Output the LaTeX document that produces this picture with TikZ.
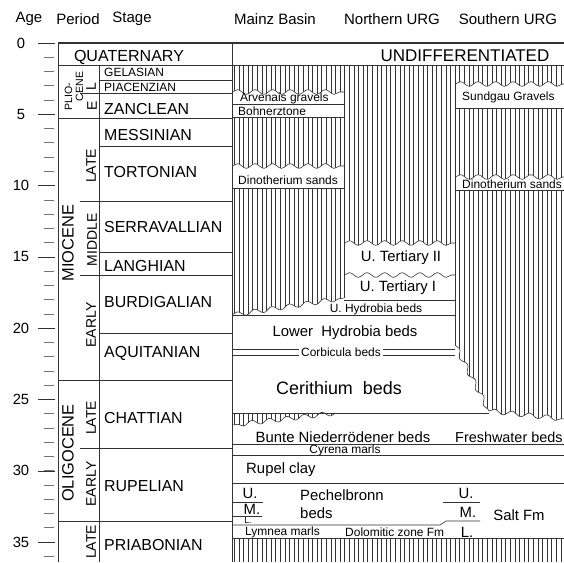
\documentclass[tikz,border=0pt]{standalone}
\usepackage{fontspec}
\setmainfont{Liberation Sans}
\usetikzlibrary{decorations.pathmorphing}

\tikzset{
  rule/.style={black!80, line width=0.5pt},
  hatch/.style={black!80, line width=0.45pt},
  wavy/.style={decoration={snake, segment length=15pt, amplitude=2pt}},
  lbl/.style={inner sep=0pt},
  hdr/.style={lbl, font=\fontsize{12.8}{14}\selectfont},
  agenum/.style={lbl, font=\fontsize{12.6}{14}\selectfont},
  stg/.style={lbl, anchor=west, font=\fontsize{13.6}{15}\selectfont},
  stgsmall/.style={lbl, anchor=west, font=\fontsize{10.2}{11}\selectfont},
  med/.style={lbl, font=\fontsize{12.7}{14}\selectfont},
  sml/.style={lbl, font=\fontsize{10.2}{11}\selectfont},
  epoch/.style={lbl, rotate=90, font=\fontsize{14}{15}\selectfont},
  subep/.style={lbl, rotate=90, font=\fontsize{11.9}{13}\selectfont},
}

\begin{document}
\begin{tikzpicture}[x=0.03cm,y=-0.03cm]
  \useasboundingbox (0,0) rectangle (564,562);
  \clip (0,0) rectangle (564,562);
  % hatching of the basin columns
  \foreach \x in {234.3,238.9,...,564}
    \draw[hatch] (\x,65) -- (\x,562);
  % unhatched beds
  \fill[white,wavy] (232,92) decorate{-- (344,92)} -- (344,117) -- (232,117) -- cycle;
  \fill[white,wavy] (232,166) decorate{-- (344,166)} -- (344,188) -- (232,188) -- cycle;
  \fill[white,wavy] (455,84) decorate{-- (564,84)} -- (564,108) -- (455,108) -- cycle;
  \fill[white,wavy] (455,177) decorate{-- (564,177)} -- (564,190) -- (455,190) -- cycle;
  \fill[white,wavy] (344,243) decorate{-- (455,243)} -- (455,345)
    decorate{-- (489,411)} decorate{-- (564,419)} -- (564,538) -- (232,538)
    -- (232,315) decorate{-- (344,298)} -- cycle;
  % hatched lens below the Cerithium beds
  \begin{scope}
    \clip[wavy] (232,413) -- (336,413) decorate{-- (232,425)} -- cycle;
    \foreach \x in {234.3,238.9,...,340}
      \draw[hatch] (\x,410) -- (\x,432);
  \end{scope}

  % age scale
  \foreach \a in {0,...,36} {
    \pgfmathsetmacro\yy{43+14.26*\a}
    \draw[black!55, line width=0.6pt] (44,\yy) -- (54,\yy);
  }
  \foreach \a in {0,5,...,35} {
    \pgfmathsetmacro\yy{43+14.26*\a}
    \draw[rule] (38,\yy) -- (55,\yy);
    \node[agenum] (age\a) at (21,\yy) {\a};
  }

  % chart frame
  \draw[rule, line width=1pt] (58,43) -- (564,43);
  \draw[rule] (58,65) -- (564,65);
  \draw[rule] (58,43) -- (58,562);
  \draw[rule] (99,65) -- (99,562);
  \draw[rule] (232,43) -- (232,562);
  % stage, sub-epoch and epoch boundaries
  \foreach \y in {80,146,252,333} \draw[rule] (99,\y) -- (232,\y);
  \foreach \y in {93,201,275,448} \draw[rule] (80,\y) -- (232,\y);
  \foreach \y in {118,380,521} \draw[rule] (58,\y) -- (232,\y);

  % basin columns
  \draw[rule] (344,65) -- (344,298);
  \draw[rule] (455,65) -- (455,345);
  \draw[rule,wavy,decorate] (232,92) -- (344,92);
  \draw[rule] (232,104) -- (344,104);
  \draw[rule] (232,117) -- (344,117);
  \draw[rule,wavy,decorate] (232,166) -- (344,166);
  \draw[rule] (232,188) -- (344,188);
  \draw[rule,wavy,decorate] (455,84) -- (564,84);
  \draw[rule] (455,108) -- (564,108);
  \draw[rule,wavy,decorate] (455,177) -- (564,177);
  \draw[rule] (455,190) -- (564,190);
  \draw[rule,wavy,decorate] (344,243) -- (455,243);
  \draw[rule,wavy,decorate] (344,275) -- (455,275);
  \draw[rule,wavy,decorate] (232,315) -- (344,298);
  \draw[rule] (344,300) -- (455,300);
  \draw[rule] (232,315) -- (455,315);
  \draw[rule] (232,349) -- (455,349);
  \draw[rule] (232,355) -- (455,355);
  \draw[rule,wavy,decorate] (455,345) -- (489,411);
  \draw[rule,wavy,decorate] (489,411) -- (564,419);
  \draw[rule] (232,413) -- (489,413);
  \draw[rule,wavy,decorate] (336,413) -- (232,425);
  \draw[rule] (232,444) -- (564,444);
  \draw[rule] (232,455) -- (564,455);
  \draw[rule] (232,483) -- (564,483);
  \draw[rule] (232,502) -- (263,502);
  \draw[rule] (232,516) -- (262,516);
  \draw[rule] (443,502) -- (480,502);
  \draw[rule] (232,525) -- (440,525) -- (446,521) -- (480,521);
  \draw[rule] (232,538) -- (564,538);

  % headings
  \node[hdr] (hage) at (29,19) {Age};
  \node[hdr] (hperiod) at (78,19) {Period};
  \node[hdr] (hstage) at (132,19) {Stage};
  \node[hdr] (hmainz) at (275,19) {Mainz Basin};
  \node[hdr] (hnorth) at (392,19) {Northern URG};
  \node[hdr] (hsouth) at (508,19) {Southern URG};

  % stages
  \node[lbl, font=\fontsize{13.7}{15}\selectfont] (quat) at (129,57) {QUATERNARY};
  \node[stgsmall] (gelas) at (104,72) {GELASIAN};
  \node[stgsmall] (piacen) at (104,87) {PIACENZIAN};
  \node[stg] (zancl) at (104,109) {ZANCLEAN};
  \node[stg] (messin) at (104,135) {MESSINIAN};
  \node[stg] (torton) at (104,172) {TORTONIAN};
  \node[stg] (serrav) at (104,227) {SERRAVALLIAN};
  \node[stg] (langh) at (104,266) {LANGHIAN};
  \node[stg] (burdig) at (104,302) {BURDIGALIAN};
  \node[stg] (aquit) at (104,353) {AQUITANIAN};
  \node[stg] (chatt) at (104,418) {CHATTIAN};
  \node[stg] (rupel) at (104,486) {RUPELIAN};
  \node[stg] (priab) at (104,545) {PRIABONIAN};

  % epochs and sub-epochs
  \node[lbl, rotate=90, font=\fontsize{9}{10}\selectfont] (plio) at (68.5,96.5) {PLIO-};
  \node[lbl, rotate=90, font=\fontsize{9}{10}\selectfont] (cene) at (79.5,86.5) {CENE};
  \node[subep] (plioL) at (91,87) {L};
  \node[subep] (plioE) at (92,106) {E};
  \node[epoch] (mioc) at (68,243) {MIOCENE};
  \node[subep] (miocL) at (91,166) {LATE};
  \node[subep] (miocM) at (92,240) {MIDDLE};
  \node[subep] (miocE) at (91,325) {EARLY};
  \node[epoch] (oligo) at (68,453) {OLIGOCENE};
  \node[subep] (oligoL) at (91,418) {LATE};
  \node[subep] (oligoE) at (91,484) {EARLY};
  \node[subep] (eoceL) at (91,542) {LATE};

  % Mainz Basin
  \node[lbl, font=\fontsize{14.5}{16}\selectfont] (undiff) at (465,56) {UNDIFFERENTIATED};
  \node[sml, anchor=west] (arvern) at (240,98) {Arvenais gravels};
  \node[sml, anchor=west] (bohnerz) at (238,111) {Bohnerztone};
  \node[sml, anchor=west] (dinoM) at (238,180) {Dinotherium sands};
  % Northern URG
  \node[med] (tertII) at (401,258) {U. Tertiary II};
  \node[med] (tertI) at (398,288) {U. Tertiary I};
  \node[sml] (uhydro) at (376,309) {U. Hydrobia beds};
  \node[med] (lhydro) at (345,333) {Lower\ \ Hydrobia beds};
  \node[sml, fill=white, inner xsep=2pt] (corbic) at (341,352) {Corbicula beds};
  \node[lbl, font=\fontsize{15.3}{17}\selectfont] (cerith) at (339,388) {Cerithium\ \ beds};
  \node[med] (bunte) at (343,437) {Bunte Niederrödener beds};
  \node[sml] (cyrena) at (345,450) {Cyrena marls};
  \node[med, anchor=west] (rupclay) at (246,470) {Rupel clay};
  \node[med] (pechU) at (250,493) {U.};
  \node[med] (pechM) at (252,509) {M.};
  \node[lbl, font=\fontsize{7.5}{8}\selectfont] (pechL) at (248,520.5) {L.};
  \node[med, anchor=west] (pechel) at (300,495) {Pechelbronn};
  \node[med, anchor=west] (pechbeds) at (300,513) {beds};
  \node[sml, anchor=west] (lymnea) at (245,532) {Lymnea marls};
  \node[sml, anchor=west] (dolom) at (345,532) {Dolomitic zone Fm};
  % Southern URG
  \node[sml, anchor=west] (sundgau) at (462,97) {Sundgau Gravels};
  \node[sml, anchor=west] (dinoS) at (462,184) {Dinotherium sands};
  \node[lbl, anchor=west, font=\fontsize{12.3}{14}\selectfont] (fresh) at (455,437) {Freshwater beds};
  \node[med] (saltU) at (466,493) {U.};
  \node[med] (saltM) at (468,512) {M.};
  \node[med] (saltL) at (467,532) {L.};
  \node[med] (saltfm) at (519,515) {Salt Fm};
\end{tikzpicture}
\end{document}
